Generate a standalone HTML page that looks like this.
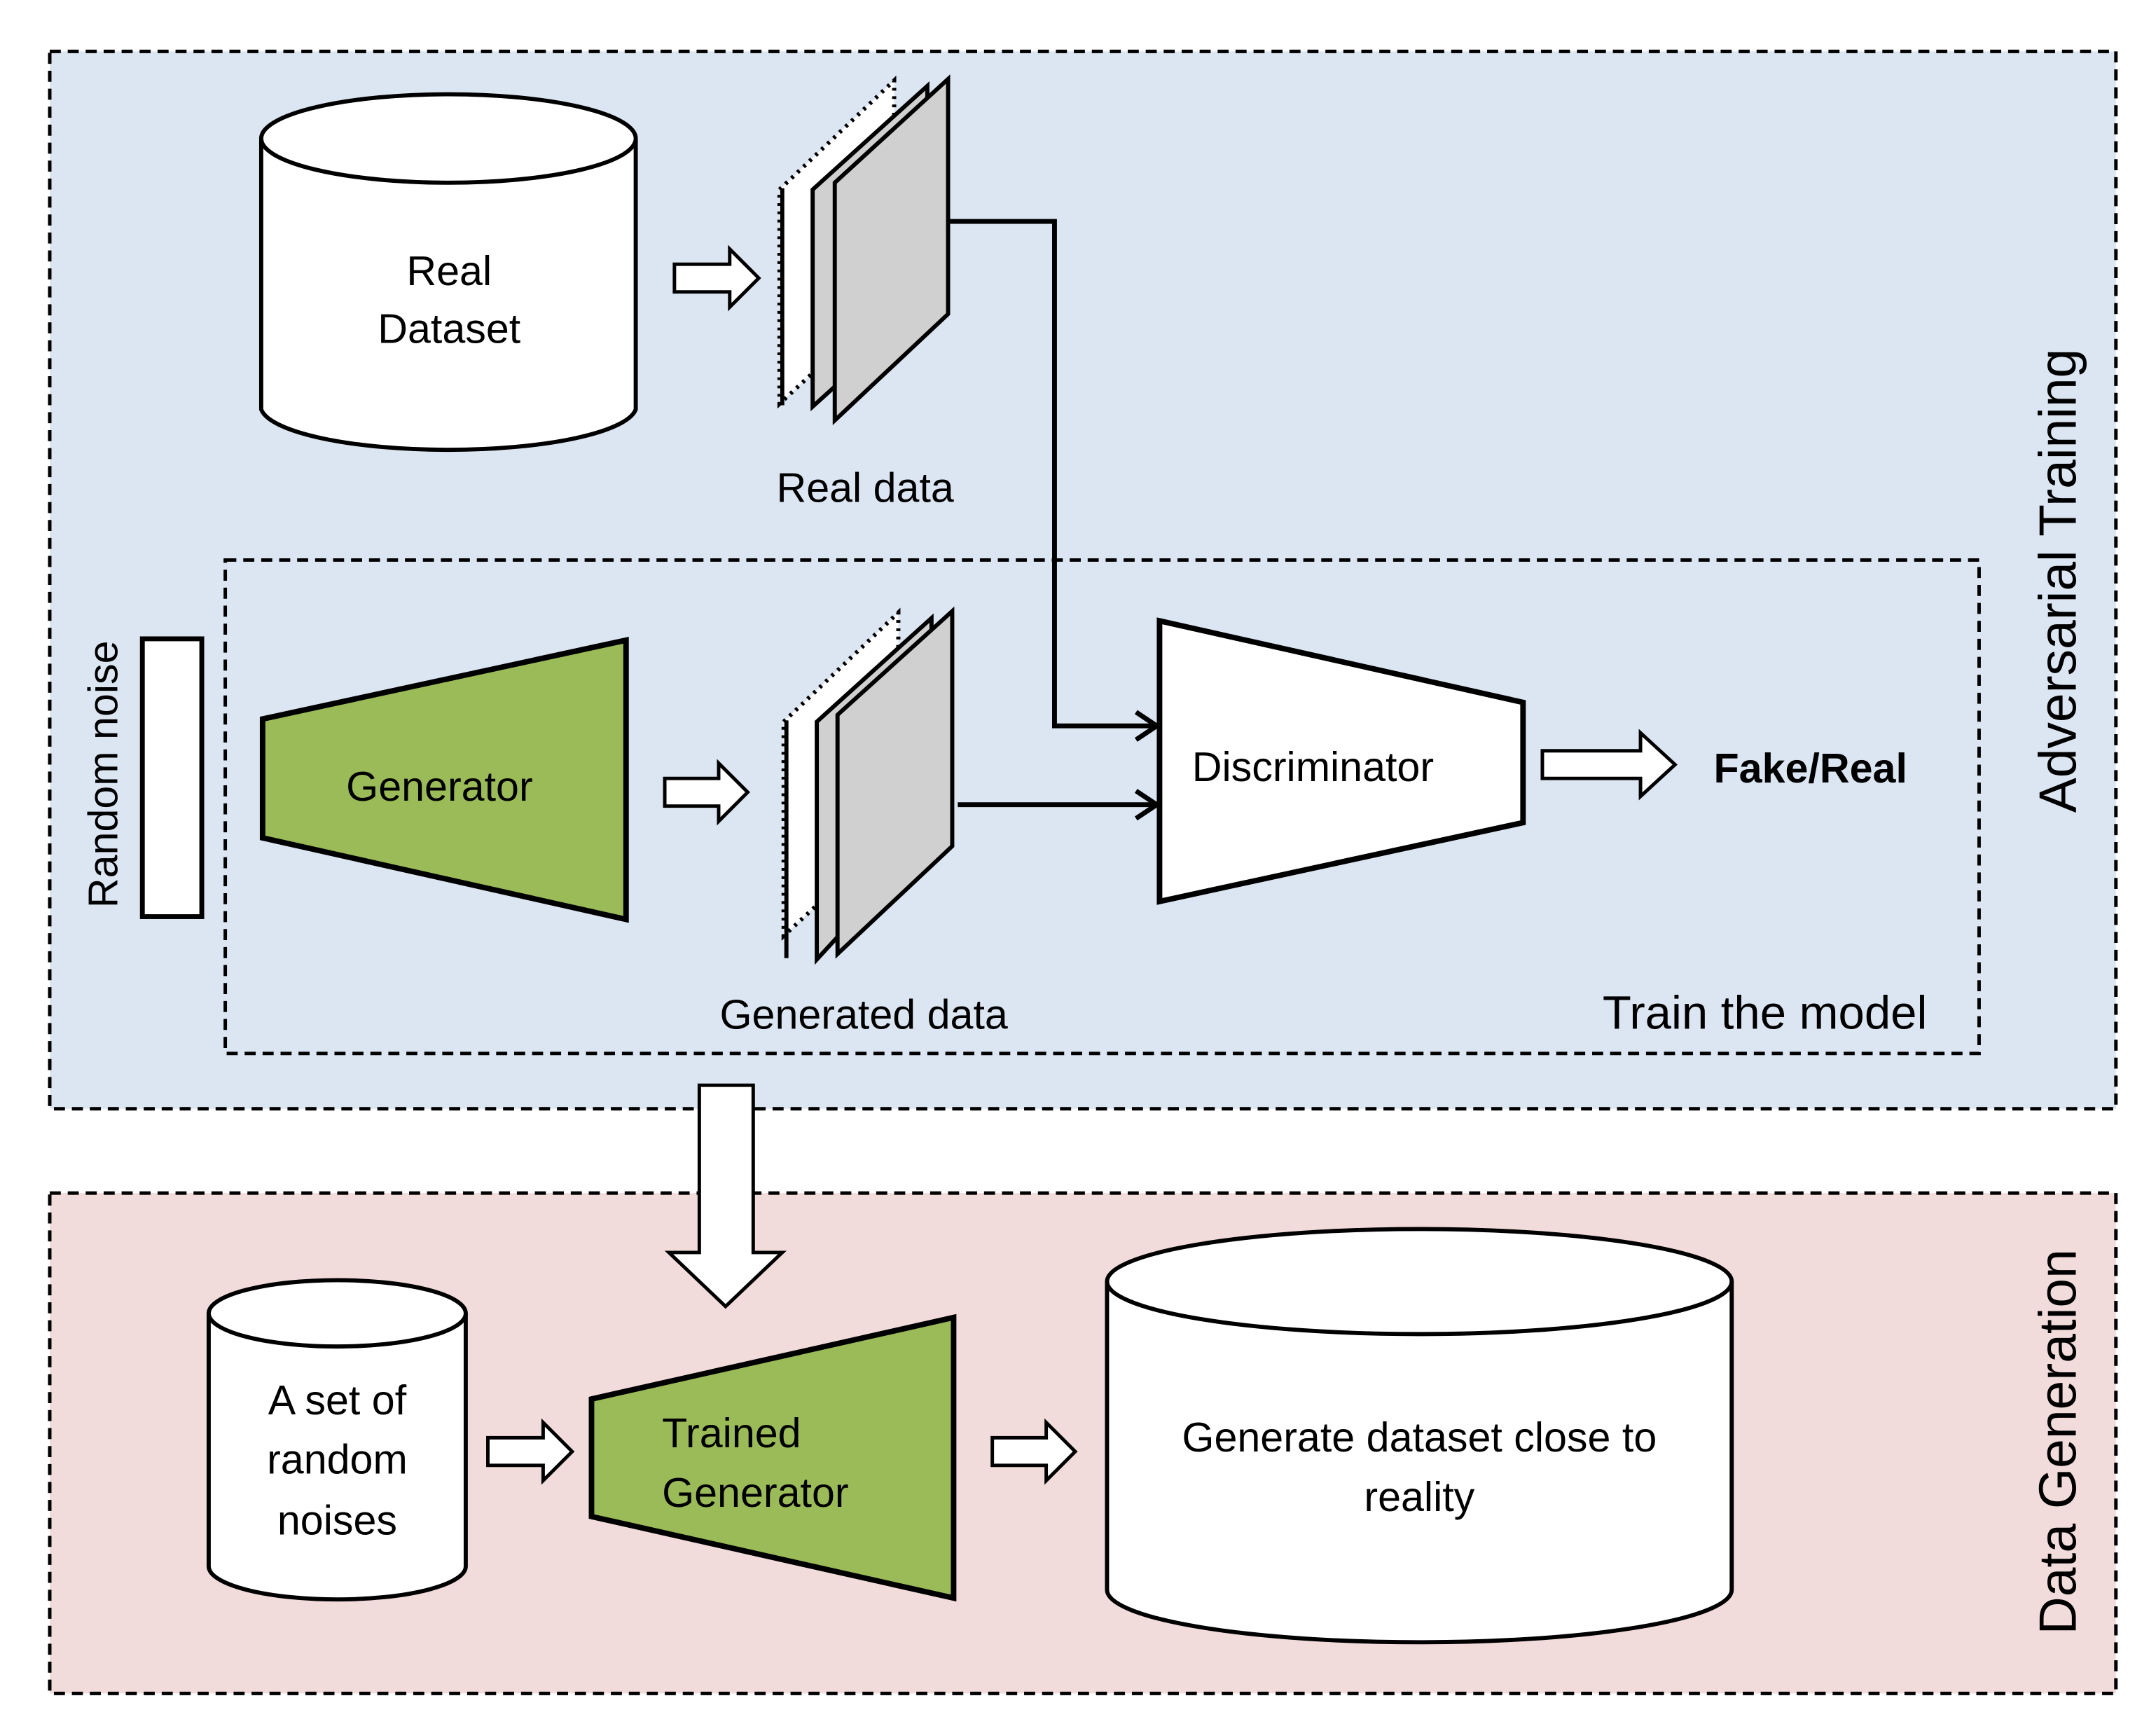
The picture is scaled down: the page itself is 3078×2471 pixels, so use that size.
<!DOCTYPE html>
<html><head><meta charset="utf-8"><style>
html,body{margin:0;padding:0;background:#fff;}
svg{display:block;}
text{font-family:"Liberation Sans",sans-serif;fill:#000;}
</style></head><body>
<svg width="3078" height="2471" viewBox="0 0 1560 1252" xmlns="http://www.w3.org/2000/svg">
<rect x="36" y="37" width="1495" height="765" fill="#dce6f2" stroke="#000" stroke-width="2.5" stroke-dasharray="8,5"/>
<rect x="36" y="863" width="1495" height="362" fill="#f2dcdb" stroke="#000" stroke-width="2.5" stroke-dasharray="8,5"/>
<rect x="163" y="405" width="1269" height="357" fill="none" stroke="#000" stroke-width="2.5" stroke-dasharray="8,5"/>

<!-- Real dataset cylinder -->
<path d="M189,100 L189,296 A136,32 0 0 0 460,296 L460,100" fill="#fff" stroke="#000" stroke-width="3"/>
<ellipse cx="324.5" cy="100" rx="135.5" ry="32" fill="#fff" stroke="#000" stroke-width="3"/>
<text x="325" y="206" font-size="30" text-anchor="middle">Real</text>
<text x="325" y="248" font-size="30" text-anchor="middle">Dataset</text>

<!-- hollow arrows -->
<g fill="#fff" stroke="#000" stroke-width="2.5">
<path d="M488,191 L528,191 L528,180 L549,201 L528,222 L528,211 L488,211 Z"/>
<path d="M481,563 L520,563 L520,552 L541,573 L520,594 L520,583 L481,583 Z"/>
<path d="M1116,543 L1187,543 L1187,530 L1212,553 L1187,576 L1187,563 L1116,563 Z"/>
<path d="M353,1040 L393,1040 L393,1029 L414,1050 L393,1071 L393,1060 L353,1060 Z"/>
<path d="M718,1040 L757,1040 L757,1029 L778,1050 L757,1071 L757,1060 L718,1060 Z"/>
<path d="M506,785 L545,785 L545,906 L566,906 L525,945 L484,906 L506,906 Z"/>
</g>

<!-- Real data stack -->
<g stroke="#000" stroke-width="3">
<path d="M564,137 L647,58 L647,215 L564,292 Z" fill="#fff" stroke-dasharray="2,4"/>
<path d="M566,136 L566,293" fill="none"/>
<path d="M588,137 L671,62 L671,219 L588,294 Z" fill="#d0d0d0"/>
<path d="M604,132 L686,57 L686,227 L604,304 Z" fill="#d0d0d0"/>
</g>
<text x="626" y="363" font-size="30" text-anchor="middle">Real data</text>

<!-- Generated stack -->
<g stroke="#000" stroke-width="3">
<path d="M567,522 L650,443 L650,600 L567,677 Z" fill="#fff" stroke-dasharray="2,4"/>
<path d="M569,521 L569,693" fill="none"/>
<path d="M591,522 L674,447 L674,604 L591,694 Z" fill="#d0d0d0"/>
<path d="M606,517 L689,442 L689,612 L606,690 Z" fill="#d0d0d0"/>
</g>
<text x="625" y="744" font-size="30" text-anchor="middle">Generated data</text>

<!-- connectors -->
<g stroke="#000" stroke-width="3.5" fill="none">
<path d="M687,160 L763,160 L763,525 L836,525"/>
<path d="M822,515 L837,525 L822,535"/>
<path d="M693,582 L836,582"/>
<path d="M822,572 L837,582 L822,592"/>
</g>

<!-- Random noise -->
<rect x="103" y="462" width="43" height="201" fill="#fff" stroke="#000" stroke-width="3.5"/>
<text transform="translate(85,560) rotate(-90)" font-size="30" text-anchor="middle">Random noise</text>

<!-- Generator -->
<path d="M190,520 L453,463 L453,665 L190,606 Z" fill="#9bbb59" stroke="#000" stroke-width="4"/>
<text x="318" y="579" font-size="30" text-anchor="middle">Generator</text>

<!-- Discriminator -->
<path d="M839,449 L1102,508 L1102,595 L839,652 Z" fill="#fff" stroke="#000" stroke-width="4"/>
<text x="950" y="565" font-size="30" text-anchor="middle">Discriminator</text>
<text x="1310" y="566" font-size="30" font-weight="bold" text-anchor="middle">Fake/Real</text>
<text x="1277" y="744" font-size="34" text-anchor="middle">Train the model</text>
<text transform="translate(1502,420) rotate(-90)" font-size="38" text-anchor="middle">Adversarial Training</text>
<text transform="translate(1502,1043) rotate(-90)" font-size="38" text-anchor="middle">Data Generation</text>

<!-- small cylinder -->
<path d="M151,950 L151,1133 A93,24 0 0 0 337,1133 L337,950" fill="#fff" stroke="#000" stroke-width="3"/>
<ellipse cx="244" cy="950" rx="93" ry="24" fill="#fff" stroke="#000" stroke-width="3"/>
<text x="244" y="1023" font-size="30" text-anchor="middle">A set of</text>
<text x="244" y="1066" font-size="30" text-anchor="middle">random</text>
<text x="244" y="1110" font-size="30" text-anchor="middle">noises</text>

<!-- Trained generator -->
<path d="M428,1012 L690,953 L690,1156 L428,1097 Z" fill="#9bbb59" stroke="#000" stroke-width="4"/>
<text x="479" y="1047" font-size="30">Trained</text>
<text x="479" y="1090" font-size="30">Generator</text>

<!-- big cylinder -->
<path d="M801,927 L801,1150 A226,38 0 0 0 1253,1150 L1253,927" fill="#fff" stroke="#000" stroke-width="3"/>
<ellipse cx="1027" cy="927" rx="226" ry="38" fill="#fff" stroke="#000" stroke-width="3"/>
<text x="1027" y="1050" font-size="30" text-anchor="middle">Generate dataset close to</text>
<text x="1027" y="1093" font-size="30" text-anchor="middle">reality</text>
</svg>
</body></html>
